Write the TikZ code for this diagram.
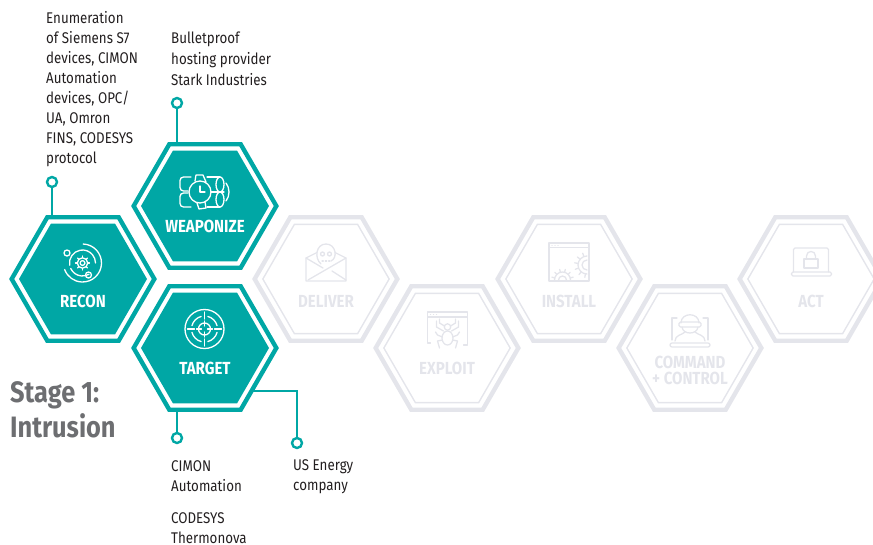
\documentclass[tikz,border=0pt]{standalone}
\usepackage{fontspec}
\setmainfont[FakeStretch=0.86]{Fira Sans}
\usetikzlibrary{shapes.geometric, calc}
\definecolor{stageteal}{RGB}{0, 167, 165}
\definecolor{stagegrey}{RGB}{228, 229, 235}
\definecolor{headgrey}{RGB}{109, 110, 113}
\definecolor{bodytext}{RGB}{35, 31, 32}
\tikzset{
  hexagon/.style={
    regular polygon,
    regular polygon sides=6,
    inner sep=0pt,
    outer sep=0pt,
  },
  hexouter/.style={hexagon, minimum size=142.7pt, draw=#1, line width=4.4pt},
  hexfill/.style={hexagon, minimum size=128pt, fill=stageteal},
  hexline/.style={hexagon, minimum size=126.3pt, draw=stagegrey, line width=1.4pt},
  hexlabel/.style={font=\fontsize{17.5}{16}\selectfont\bfseries, text=#1, align=center, inner sep=0pt},
  pin/.style={circle, draw=stageteal, line width=2.4pt, fill=white, minimum size=10pt, inner sep=0pt},
  stem/.style={draw=stageteal, line width=2.3pt},
  note/.style={font=\fontsize{15.5}{20}\selectfont, text=bodytext, align=left, anchor=north west, inner sep=0pt},
  iconline/.style={line width=1.3pt, line cap=round, line join=round},
  reconicon/.pic={
    \draw[pic actions, iconline] (-88:19) arc[start angle=-88, end angle=160, radius=19];
    \draw[pic actions, iconline] (170:13) arc[start angle=170, end angle=360, radius=13];
    \draw[pic actions, iconline] (155:13) arc[start angle=155, end angle=60, radius=13];
    \draw[pic actions, iconline] (-15.5,-10) circle[radius=3];
    \draw[pic actions, iconline] (6,12) circle[radius=3];
    \draw[pic actions, iconline] (0,0) circle[radius=2.4];
    \draw[pic actions, iconline] (0,0) circle[radius=5.2];
    \foreach \toothangle in {0,45,...,315}
      \draw[pic actions, iconline] (\toothangle:5.2) -- (\toothangle:7);
  },
  bombicon/.pic={
    \draw[pic actions, iconline] (0,0) circle[radius=11];
    \draw[pic actions, iconline] (0,-6) -- (0,0) -- (5,0);
    \draw[pic actions, iconline, rounded corners=3.5pt] (-9,-15) -- (-20,-15) -- (-20,-1) -- (-12,-1);
    \draw[pic actions, iconline, rounded corners=3.5pt] (-9,15) -- (-20,15) -- (-20,1) -- (-12,1);
    \draw[pic actions, iconline] (7,-15) -- (20,-15);
    \draw[pic actions, iconline] (7,15) -- (20,15);
    \draw[pic actions, iconline] (11,0) -- (24,0);
    \draw[pic actions, iconline] (20,-7.5) ellipse[x radius=4, y radius=7.5];
    \draw[pic actions, iconline] (20,7.5) ellipse[x radius=4, y radius=7.5];
    \draw[pic actions, iconline] (26,-9) .. controls (30,-4) and (30,4) .. (26,9);
    \draw[pic actions, iconline] (-5,-11) -- (-4,-17) -- (3,-17) -- (6,-10);
    \draw[pic actions, iconline] (-3,11) -- (-1,17) -- (6,16) -- (5,10);
  },
  targeticon/.pic={
    \draw[pic actions, iconline] (0,0) circle[radius=19.5];
    \draw[pic actions, iconline] (0,0) circle[radius=6];
    \foreach \ringangle in {0,90,180,270} {
      \draw[pic actions, iconline] (\ringangle+15:13) arc[start angle=\ringangle+15, end angle=\ringangle+75, radius=13];
      \draw[pic actions, iconline] (\ringangle:3) -- (\ringangle:8);
      \draw[pic actions, iconline] (\ringangle:10) -- (\ringangle:17);
    }
  },
  delivericon/.pic={
    \draw[pic actions, iconline] (-9,-9.5) -- (-20,-4) -- (-20,19) -- (20,19) -- (20,-4) -- (9,-9.5);
    \draw[pic actions, iconline] (-20,-4) -- (-3,6);
    \draw[pic actions, iconline] (20,-4) -- (-18,18);
    \draw[pic actions, iconline] (6,9) -- (20,18);
    \draw[pic actions, iconline] (-5,2) .. controls (-12,-4) and (-10,-18) .. (0,-18) .. controls (10,-18) and (12,-4) .. (5,-1);
    \draw[pic actions, iconline] (-3.5,-8) circle[radius=2];
    \draw[pic actions, iconline] (3.5,-8) circle[radius=2];
    \draw[pic actions, iconline, dotted] (-4,-1) -- (5,-1);
  },
  exploiticon/.pic={
    \draw[pic actions, iconline] (-17,14) -- (-20,14) -- (-20,-17) -- (20,-17) -- (20,16) -- (16,16);
    \draw[pic actions, iconline] (-20,-12) -- (20,-12);
    \foreach \dotx in {-17,-14,-11}
      \draw[pic actions, iconline] (\dotx,-14.5) -- (\dotx+.1,-14.5);
    \draw[pic actions, iconline] (0,-2) circle[radius=3.2];
    \draw[pic actions, iconline] (0,9) ellipse[x radius=5.5, y radius=7];
    \foreach \legside in {-1,1} {
      \draw[pic actions, iconline] (\legside*3,-3) -- (\legside*8,-6) -- (\legside*8,-10);
      \draw[pic actions, iconline] (\legside*4,2) -- (\legside*11,-2) -- (\legside*11,-8);
      \draw[pic actions, iconline] (\legside*5,8) -- (\legside*10,6) -- (\legside*12,3);
      \draw[pic actions, iconline] (\legside*5,11) -- (\legside*10,12) -- (\legside*8,19);
    }
  },
  installicon/.pic={
    \draw[pic actions, iconline] (-20,-19) rectangle (20,19);
    \draw[pic actions, iconline] (-20,-14.5) -- (20,-14.5);
    \foreach \dotx in {-17,-14,-11}
      \draw[pic actions, iconline] (\dotx,-16.8) -- (\dotx+.1,-16.8);
    % Lower gear
    \draw[pic actions, iconline] (-2.5,18) arc[start angle=0, end angle=-180, radius=4];
    \draw[pic actions, iconline] (1.5,18) arc[start angle=0, end angle=-180, radius=8];
    \foreach \toothangle in {-165,-135,...,-15}
      \draw[pic actions, iconline] ($(-6.5,18)+(\toothangle:8)$) -- ($(-6.5,18)+(\toothangle:11)$);
    % Upper gear
    \draw[pic actions, iconline] (18,-6) arc[start angle=-90, end angle=-270, radius=9];
    \draw[pic actions, iconline] (18,-2) arc[start angle=-90, end angle=-270, radius=5];
    \foreach \toothangle in {100,130,...,260}
      \draw[pic actions, iconline] ($(18,3)+(\toothangle:9)$) -- ($(18,3)+(\toothangle:12.5)$);
  },
  commandicon/.pic={
    \draw[pic actions, iconline] (-13,-14) -- (-18,-14) -- (-18,8);
    \draw[pic actions, iconline] (13,-14) -- (18,-14) -- (18,8);
    \draw[pic actions, iconline, rounded corners=2pt] (-20,11) rectangle (20,15);
    \draw[pic actions, iconline] (-9,-9) .. controls (-9,-20) and (9,-20) .. (9,-9);
    \draw[pic actions, iconline, rounded corners=1.5pt] (-11,-10) rectangle (11,-5);
    \draw[pic actions, iconline] (-8,-5) .. controls (-7,3) and (7,3) .. (8,-5);
    \draw[pic actions, iconline] (-15,9) .. controls (-15,3) and (-8,3) .. (-5,0);
    \draw[pic actions, iconline] (15,9) .. controls (15,3) and (8,3) .. (5,0);
  },
  acticon/.pic={
    \draw[pic actions, iconline, rounded corners=1.5pt] (-17.5,10) -- (-17.5,-14) -- (17.5,-14) -- (17.5,10);
    \draw[pic actions, iconline, rounded corners=1.5pt] (-19.5,10) rectangle (20.5,14);
    \draw[pic actions, iconline] (-7,-3) rectangle (7,6);
    \draw[pic actions, iconline] (-4.5,-3) -- (-4.5,-6) .. controls (-4.5,-12) and (4.5,-12) .. (4.5,-6) -- (4.5,-3);
  },
}
\begin{document}
\begin{tikzpicture}[x=1pt, y=-1pt]
  \clip (0,0) rectangle (873,544);

  % Stages still to come
  \foreach \hexname/\hexx/\hexy in {deliver/326/279, exploit/447/348, install/569/279, command/690/348, act/811/279} {
    \node[hexouter=stagegrey] (\hexname) at (\hexx,\hexy) {};
    \node[hexline] (\hexname-in) at (\hexx,\hexy) {};
  }

  % Stages of the intrusion
  \foreach \hexname/\hexx/\hexy in {recon/83/279, weaponize/205/206, target/205/348} {
    \node[hexouter=stageteal] (\hexname) at (\hexx,\hexy) {};
    \node[hexfill] (\hexname-in) at (\hexx,\hexy) {};
  }

  % Labels
  \node[hexlabel=white, yshift=-22pt] (recontext) at (recon) {RECON};
  \node[hexlabel=white, yshift=-20pt] (weaponizetext) at (weaponize) {WEAPONIZE};
  \node[hexlabel=white, yshift=-20pt] (targettext) at (target) {TARGET};
  \node[hexlabel=stagegrey, yshift=-22pt] (delivertext) at (deliver) {DELIVER};
  \node[hexlabel=stagegrey, yshift=-20pt] (exploittext) at (exploit) {EXPLOIT};
  \node[hexlabel=stagegrey, yshift=-22pt] (installtext) at (install) {INSTALL};
  \node[hexlabel=stagegrey, yshift=-22pt] (commandtext) at (command) {COMMAND\\[0pt]+ CONTROL};
  \node[hexlabel=stagegrey, yshift=-22pt] (acttext) at (act) {ACT};

  % Icons
  \pic[draw=white] at (82.5,263) {reconicon};
  \pic[draw=white] at (200,192) {bombicon};
  \pic[draw=white] at (204.5,329) {targeticon};
  \pic[draw=stagegrey] at (326,262) {delivericon};
  \pic[draw=stagegrey] at (447.5,329) {exploiticon};
  \pic[draw=stagegrey] at (569,262) {installicon};
  \pic[draw=stagegrey] at (690,332) {commandicon};
  \pic[draw=stagegrey] at (811,262) {acticon};

  % Pins
  \coordinate (targetedge) at (253,391);
  \node[pin] (reconpin) at (52,182) {};
  \node[pin] (weaponizepin) at (177,103) {};
  \node[pin] (targetpin) at (177,438) {};
  \node[pin] (companypin) at (297,443) {};

  \draw[stem] (reconpin) -- (reconpin |- recon.north);
  \draw[stem] (weaponizepin) -- (weaponizepin |- weaponize.north);
  \draw[stem] (targetpin) -- (targetpin |- target.south);
  \draw[stem] (companypin) |- (targetedge);

  % Notes
  \node[note] (recontargets) at (46,11) {Enumeration\\of Siemens S7\\devices, CIMON\\Automation\\devices, OPC/\\UA, Omron\\FINS, CODESYS\\protocol};
  \node[note] (hosting) at (171,32) {Bulletproof\\[0.7pt]hosting provider\\[0.7pt]Stark Industries};
  \node[note] (cimon) at (171,460) {CIMON\\Automation};
  \node[note] (codesys) at (171,512) {CODESYS\\Thermonova};
  \node[note] (company) at (293,459) {US Energy\\company};

  \node[font=\fontsize{29.5}{35.5}\selectfont\bfseries, text=headgrey, align=left, anchor=north west, inner sep=0pt] (stagetitle) at (10,381) {Stage 1:\\Intrusion};
\end{tikzpicture}
\end{document}
